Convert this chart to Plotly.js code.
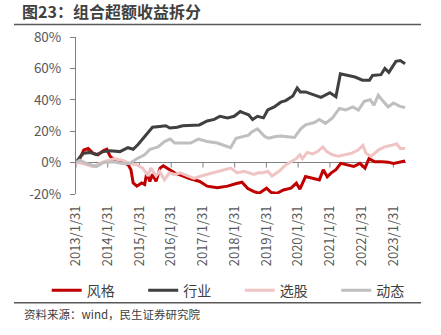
<!DOCTYPE html>
<html>
<head>
<meta charset="utf-8">
<script src="https://cdn.plot.ly/plotly-3.0.1.min.js"></script>
<style>html,body{margin:0;padding:0;background:#fff;}#chart{width:441px;height:335px;}</style>
</head>
<body>
<div id="chart"></div>
<script>
// ---- data ----
var styleDates = ['2013-01-31','2013-03-15','2013-05-01','2013-06-20','2013-08-15','2013-10-10','2013-12-10','2014-01-20','2014-02-28','2014-04-25','2014-07-20','2014-09-25','2014-10-25','2014-11-20','2015-01-01','2015-02-25','2015-04-01','2015-04-25','2015-05-31','2015-06-30','2015-08-10','2015-09-25','2015-11-01','2016-01-10','2016-03-10','2016-06-10','2016-08-20','2016-12-25','2017-03-20','2017-07-15','2017-11-10','2018-02-10','2018-04-25','2018-07-01','2018-09-10','2018-11-10','2019-02-01','2019-03-25','2019-06-01','2019-08-15','2019-11-10','2020-01-10','2020-02-20','2020-04-25','2020-07-15','2020-10-01','2020-11-15','2020-12-31','2021-02-15','2021-04-10','2021-06-05','2021-08-10','2021-11-01','2022-01-10','2022-03-10','2022-04-25','2022-07-01','2022-09-20','2022-12-01','2023-02-01','2023-04-15','2023-06-15'];
var styleVals = [0,2.5,8,9,6,5,7.5,8.5,4,1.5,0.5,-1.5,-4.5,-13,-15,-13,-14,-6.5,-12,-7.5,-12,-3.5,-2,-4.5,-6.5,-8.5,-10,-12,-15,-16,-15,-13.5,-12.5,-16.5,-18.5,-19.5,-16.3,-19,-19.5,-17.4,-16.3,-13.1,-16.9,-8.9,-9.9,-11,-4.5,-9,-6.5,-4.5,-0.5,-1.5,-2.5,-0.5,-3.5,2.5,0.5,0.5,0.3,-0.5,0.5,1];

var industryDates = ['2013-01-31','2013-03-15','2013-05-01','2013-07-10','2013-09-20','2013-12-10','2014-02-28','2014-06-20','2014-09-20','2014-11-20','2015-01-15','2015-04-01','2015-05-31','2015-06-30','2015-09-20','2015-11-30','2016-01-15','2016-04-10','2016-06-10','2016-12-20','2017-03-20','2017-06-10','2017-08-15','2017-11-10','2018-01-25','2018-04-05','2018-05-20','2018-07-10','2018-08-25','2018-10-20','2018-12-28','2019-02-15','2019-05-01','2019-07-15','2019-09-10','2019-12-01','2020-01-20','2020-02-25','2020-04-25','2020-08-05','2020-10-20','2021-01-31','2021-04-10','2021-05-31','2021-08-10','2021-11-15','2022-02-10','2022-05-01','2022-06-05','2022-09-10','2022-10-25','2022-12-10','2023-03-01','2023-04-20','2023-06-15'];
var industryVals = [0,3.5,6,6.5,5,7,7.5,7,9.5,8.5,11.5,16.5,20.5,22.5,23,23.5,22,22.5,23.5,24,26.5,27.5,29.5,28.5,29.5,32.5,31.5,30.5,27.5,29.5,28.5,33.5,35.5,38.5,39.5,42.5,47.5,45,45,43,41.5,44.5,42,56.5,55.5,54.5,52.5,52.5,55.5,56,60,57.5,64.5,65,63];

var stockDates = ['2013-01-31','2013-04-10','2013-08-15','2013-12-10','2014-04-10','2014-07-20','2014-10-10','2015-01-01','2015-03-10','2015-05-10','2015-06-10','2015-08-10','2015-09-20','2015-11-15','2016-01-10','2016-03-10','2016-05-15','2016-08-10','2016-10-20','2017-01-10','2017-03-20','2017-06-10','2017-08-20','2017-12-15','2018-03-01','2018-05-20','2018-09-10','2018-10-25','2018-12-20','2019-02-15','2019-04-05','2019-06-25','2019-09-10','2019-11-10','2020-01-10','2020-02-20','2020-03-20','2020-05-15','2020-07-15','2020-09-10','2020-11-10','2020-12-25','2021-03-01','2021-05-10','2021-07-20','2021-10-10','2021-12-20','2022-02-15','2022-03-20','2022-05-20','2022-08-10','2022-10-20','2023-01-10','2023-03-10','2023-04-20','2023-06-15'];
var stockVals = [0,-0.5,-2.5,0.5,2.5,1.5,-0.5,-1.5,-3.5,-8.5,-3.5,-8.5,-5.5,-11,-6.5,-7.5,-6.5,-8.5,-10,-8.5,-7.5,-6.5,-5.5,-3.5,-6.5,-5.5,-7.5,-6.5,-6.5,-5.5,-8.5,-5.5,-1.5,0.5,2.5,5,2.5,6.5,5.5,7,10,7,5,4,5,6,8,11,6,4,8,10,11,12,9,9];

var dynamicDates = ['2013-01-31','2013-03-15','2013-05-31','2013-09-20','2013-12-10','2014-04-10','2014-07-20','2014-10-10','2015-01-01','2015-02-25','2015-04-01','2015-06-01','2015-09-01','2015-11-20','2016-01-20','2016-03-10','2016-06-10','2016-09-10','2016-12-10','2017-03-20','2017-07-15','2017-12-15','2018-02-15','2018-05-20','2018-07-10','2018-08-15','2018-10-20','2019-01-15','2019-02-28','2019-05-01','2019-07-15','2019-10-01','2019-12-20','2020-03-01','2020-04-25','2020-08-05','2020-10-01','2020-12-10','2021-03-01','2021-05-20','2021-08-01','2021-10-20','2021-12-25','2022-03-01','2022-05-10','2022-06-20','2022-08-10','2022-10-05','2022-12-01','2023-02-01','2023-04-10','2023-06-15'];
var dynamicVals = [0,1.5,-0.5,-2.5,0,0.5,-0.5,-0.5,2.5,4,5,8.5,10,13.5,15,12.5,12.5,12.5,15,13.5,12.5,9.5,15.5,16.5,17.5,19.5,21.5,16.5,15.5,16.5,17,16.5,16,21.5,24,25.5,27.5,25,28.5,34.5,33.5,35.5,33.5,39,40,36.5,43,39,35.5,38,36,35];

var seriesNames = ['风格','行业','选股','动态'];
var seriesColors = ['#C00000','#404040','#F0C4C4','#BFBFBF'];

var tickDates = ['2013-01-31','2014-01-31','2015-01-31','2016-01-31','2017-01-31','2018-01-31','2019-01-31','2020-01-31','2021-01-31','2022-01-31','2023-01-31'];
var tickLabels = ['2013/1/31','2014/1/31','2015/1/31','2016/1/31','2017/1/31','2018/1/31','2019/1/31','2020/1/31','2021/1/31','2022/1/31','2023/1/31'];
var yTicks = [-20,0,20,40,60,80];
var yTickLabels = ['-20%','0%','20%','40%','60%','80%'];

// ---- chart ----
var FONT = 'Noto Sans CJK SC, Noto Sans, sans-serif';
var xs = [styleDates, industryDates, stockDates, dynamicDates];
var ys = [styleVals, industryVals, stockVals, dynamicVals];
var traces = seriesNames.map(function(n, i){
  return {type:'scatter', mode:'lines', name:n, x:xs[i], y:ys[i],
    line:{color:seriesColors[i], width:3}, hoverinfo:'skip'};
});

var W = 441, H = 335, L = 76, R = 35, T = 37, B = 141;
var pw = W - L - R, ph = H - T - B;
function px(p){ return (p - L) / pw; }
function py(q){ return (H - B - q) / ph; }

var shapes = [
  {type:'line', xref:'paper', yref:'paper', x0:px(14), x1:px(421), y0:py(24.5), y1:py(24.5), line:{color:'#595959', width:1.5}},
  {type:'line', xref:'paper', yref:'paper', x0:px(14), x1:px(421), y0:py(302.7), y1:py(302.7), line:{color:'#595959', width:1.5}}
];
tickDates.forEach(function(d){
  shapes.push({type:'line', xref:'x', yref:'y', x0:d, x1:d, ysizemode:'pixel', yanchor:0, y0:0, y1:-5, line:{color:'#808080', width:1}, layer:'below'});
});

var layout = {
  width:W, height:H,
  margin:{l:L, r:R, t:T, b:B, pad:0},
  paper_bgcolor:'#fff', plot_bgcolor:'#fff',
  font:{family:FONT, color:'#595959', size:13},
  title:{text:'<b>图23：组合超额收益拆分</b>', xref:'container', yref:'container', x:22/W, xanchor:'left', y:1-12/H, yanchor:'middle', font:{family:FONT, size:16, color:'#404040'}},
  xaxis:{type:'date', range:['2013-01-31','2023-06-25'], tickmode:'array', tickvals:tickDates, ticktext:tickLabels, tickangle:-90, showgrid:false, zeroline:false, showline:false, ticks:'', tickfont:{size:13, color:'#595959'}, ticklabelstandoff:8},
  yaxis:{range:[-20,80], tickmode:'array', tickvals:yTicks, ticktext:yTickLabels, showgrid:false, zeroline:true, zerolinecolor:'#808080', zerolinewidth:1, showline:true, linecolor:'#808080', linewidth:1, ticks:'outside', ticklen:5, tickcolor:'#808080', tickfont:{size:13.5, color:'#595959'}, ticklabelstandoff:6},
  showlegend:true,
  legend:{orientation:'h', x:px(46.7), xanchor:'left', y:py(290.7), yanchor:'middle', font:{family:FONT, size:14, color:'#404040'}, entrywidth:51.5, entrywidthmode:'pixels', bgcolor:'rgba(0,0,0,0)', borderwidth:0, tracegroupgap:0},
  shapes:shapes,
  annotations:[{xref:'paper', yref:'paper', x:px(22), y:py(314.3), xanchor:'left', yanchor:'middle', showarrow:false, text:'资料来源：wind，民生证券研究院', font:{family:FONT, size:11.5, color:'#404040'}}]
};

Plotly.newPlot('chart', traces, layout, {staticPlot:true, displayModeBar:false});
</script>
</body>
</html>
